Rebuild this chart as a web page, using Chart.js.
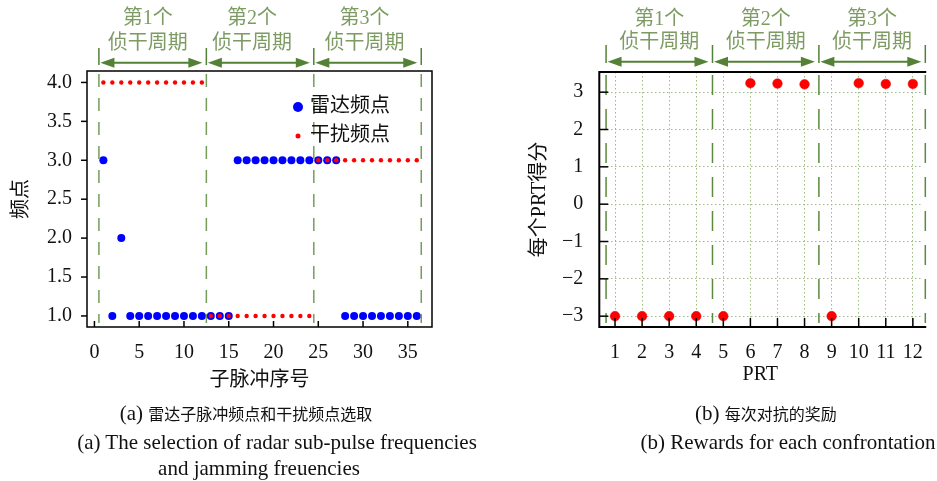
<!DOCTYPE html>
<html>
<head>
<meta charset="utf-8">
<script src="https://cdn.jsdelivr.net/npm/chart.js@4.4.0/dist/chart.umd.min.js"></script>
<style>
  body { margin: 0; background: #fff; width: 937px; height: 481px; position: relative; overflow: hidden;
         font-family: "Liberation Serif", "Noto Sans CJK SC", serif; color: #111; }
  canvas { position: absolute; top: 0; }
  #c1 { left: 0; }
  #c2 { left: 470px; }
  .cap { position: absolute; white-space: nowrap; transform: translateX(-50%); font-size: 21px; line-height: 1; }
  .cap .zh { font-size: 16px; }
</style>
</head>
<body>
<canvas id="c1" width="470" height="481"></canvas>
<canvas id="c2" width="467" height="481"></canvas>
<div class="cap" style="left:246px;top:403px">(a) <span class="zh">雷达子脉冲频点和干扰频点选取</span></div>
<div class="cap" style="left:277px;top:432px">(a) The selection of radar sub-pulse frequencies</div>
<div class="cap" style="left:259px;top:458px">and jamming freuencies</div>
<div class="cap" style="left:766px;top:403px">(b) <span class="zh">每次对抗的奖励</span></div>
<div class="cap" style="left:788px;top:432px">(b) Rewards for each confrontation</div>
<script>
// ---- data ----
const pulseIndex = [1,2,3,4,5,6,7,8,9,10,11,12,13,14,15,16,17,18,19,20,21,22,23,24,25,26,27,28,29,30,31,32,33,34,35,36];
const radarFreq  = [3,1,2,1,1,1,1,1,1,1,1,1,1,1,1,3,3,3,3,3,3,3,3,3,3,3,3,1,1,1,1,1,1,1,1,1];
const jamFreq    = [4,4,4,4,4,4,4,4,4,4,4,4,1,1,1,1,1,1,1,1,1,1,1,1,3,3,3,3,3,3,3,3,3,3,3,3];
const pulseTicks = [0,5,10,15,20,25,30,35];
const freqTicks  = [1.0,1.5,2.0,2.5,3.0,3.5,4.0];

const prt        = [1,2,3,4,5,6,7,8,9,10,11,12];
const reward     = [-3,-3,-3,-3,-3,3.24,3.23,3.21,-3,3.24,3.22,3.22];
const prtTicks   = [1,2,3,4,5,6,7,8,9,10,11,12];
const rewardTicks= [-3,-2,-1,0,1,2,3];

const cycleLabels = [['第1个','侦干周期'],['第2个','侦干周期'],['第3个','侦干周期']];
const leftSeps  = [0.5, 12.5, 24.5, 36.5];
const rightSeps = [0.67, 4.6, 8.53, 12.46];

const FONT = "'Liberation Serif', 'Noto Sans CJK SC', serif";
Chart.defaults.font.family = FONT;
Chart.defaults.color = '#111';

const ARROW = '#538135';
const LABEL = '#7d9b63';

function arrow(ctx, x1, x2, y) {
  const hl = 14, hw = 5;
  ctx.lineWidth = 2;
  ctx.beginPath(); ctx.moveTo(x1 + hl - 2, y); ctx.lineTo(x2 - hl + 2, y); ctx.stroke();
  ctx.beginPath(); ctx.moveTo(x1, y); ctx.lineTo(x1 + hl, y - hw); ctx.lineTo(x1 + hl, y + hw); ctx.closePath(); ctx.fill();
  ctx.beginPath(); ctx.moveTo(x2, y); ctx.lineTo(x2 - hl, y - hw); ctx.lineTo(x2 - hl, y + hw); ctx.closePath(); ctx.fill();
}

const deco = {
  id: 'deco',
  afterDraw(chart, args, o) {
    const { ctx, chartArea: a, scales: { x, y } } = chart;
    ctx.save();
    // dashed separators inside plot
    ctx.strokeStyle = o.sepColor; ctx.lineWidth = 1.5; ctx.setLineDash(o.dash);
    o.seps.forEach(v => {
      const px = x.getPixelForValue(v);
      ctx.beginPath(); ctx.moveTo(px, a.top + 3); ctx.lineTo(px, a.bottom - 4); ctx.stroke();
    });
    ctx.setLineDash([]);
    // cycle annotation above plot
    ctx.strokeStyle = ARROW; ctx.fillStyle = ARROW;
    o.seps.forEach(v => {
      const px = x.getPixelForValue(v);
      ctx.lineWidth = 1.5;
      ctx.beginPath(); ctx.moveTo(px, o.barTop); ctx.lineTo(px, o.barBottom); ctx.stroke();
    });
    ctx.font = '20px ' + FONT; ctx.textAlign = 'center'; ctx.textBaseline = 'middle';
    for (let i = 0; i < o.seps.length - 1; i++) {
      const p1 = x.getPixelForValue(o.seps[i]), p2 = x.getPixelForValue(o.seps[i + 1]);
      ctx.fillStyle = ARROW;
      arrow(ctx, p1 + 1.5, p2 - 4, o.arrowY);
      ctx.fillStyle = LABEL;
      const cx = (p1 + p2) / 2 + o.textShift[i];
      ctx.fillText(cycleLabels[i][0], cx, o.line1Y);
      ctx.fillText(cycleLabels[i][1], cx, o.line2Y);
    }
    // frame
    ctx.strokeStyle = '#000'; ctx.lineWidth = o.frameWidth;
    ctx.beginPath();
    if (o.rightSide) { ctx.strokeRect(a.left, a.top, a.right - a.left, a.bottom - a.top); }
    else { ctx.moveTo(a.right + 5, a.top); ctx.lineTo(a.left, a.top); ctx.lineTo(a.left, a.bottom); ctx.lineTo(a.right + 5, a.bottom); ctx.stroke(); }
    // ticks
    ctx.lineWidth = 1.5;
    x.ticks.forEach(t => {
      const px = x.getPixelForValue(t.value);
      ctx.beginPath(); ctx.moveTo(px, a.bottom); ctx.lineTo(px, a.bottom - o.xTick); ctx.stroke();
    });
    y.ticks.forEach(t => {
      const py = y.getPixelForValue(t.value);
      ctx.beginPath(); ctx.moveTo(a.left, py); ctx.lineTo(a.left + o.yTick, py); ctx.stroke();
    });
    // legend
    if (o.legend) {
      ctx.font = '20px ' + FONT; ctx.textAlign = 'left';
      o.legend.forEach(l => {
        ctx.fillStyle = l.color;
        ctx.beginPath(); ctx.arc(l.x, l.y, l.r, 0, Math.PI * 2); ctx.fill();
        ctx.fillStyle = '#111';
        ctx.fillText(l.text, l.x + 12, l.y);
      });
    }
    ctx.restore();
  }
};

const setTicks = arr => s => { s.ticks = arr.map(v => ({ value: v })); };

new Chart(document.getElementById('c1').getContext('2d'), {
  type: 'scatter',
  data: {
    datasets: [
      { label: '雷达频点', data: pulseIndex.map((v, i) => ({ x: v, y: radarFreq[i] })),
        backgroundColor: '#0000ff', borderWidth: 0, pointRadius: 4, order: 1 },
      { label: '干扰频点', data: pulseIndex.map((v, i) => ({ x: v, y: jamFreq[i] })),
        backgroundColor: '#ff0000', borderWidth: 0, pointRadius: 2.2, order: 0 }
    ]
  },
  options: {
    responsive: false, animation: false, events: [],
    layout: { padding: { top: 71, right: 38, bottom: 88, left: 0 } },
    scales: {
      x: {
        type: 'linear', min: -0.83, max: 37.7, afterBuildTicks: setTicks(pulseTicks),
        grid: { display: false, drawTicks: false }, border: { display: false },
        ticks: { padding: 14, font: { size: 20 }, maxRotation: 0, autoSkip: false },
        title: { display: true, text: '子脉冲序号', font: { size: 20 }, padding: 0 },
        afterFit: s => { s.height = 66; }
      },
      y: {
        min: 0.858, max: 4.147, afterBuildTicks: setTicks(freqTicks),
        grid: { display: false, drawTicks: false }, border: { display: false },
        ticks: { padding: 15, font: { size: 20 }, callback: v => v.toFixed(1) },
        title: { display: true, text: '频点', font: { size: 20 }, padding: { top: 10, bottom: 0 } },
        afterFit: s => { s.width = 87; }
      }
    },
    plugins: {
      legend: { display: false }, tooltip: { enabled: false },
      deco: {
        seps: leftSeps, sepColor: 'rgba(84,130,53,0.8)', dash: [13, 11],
        barTop: 48, barBottom: 65, arrowY: 62.7, line1Y: 19, line2Y: 44,
        textShift: [-5, -8, -3], frameWidth: 1.5, rightSide: true,
        xTick: 6, yTick: -6,
        legend: [
          { text: '雷达频点', color: '#0000ff', r: 5, x: 298, y: 107 },
          { text: '干扰频点', color: '#ff0000', r: 2.5, x: 298, y: 136 }
        ]
      }
    }
  },
  plugins: [deco]
});

new Chart(document.getElementById('c2').getContext('2d'), {
  type: 'scatter',
  data: {
    datasets: [
      { label: '奖励', data: prt.map((v, i) => ({ x: v, y: reward[i] })),
        backgroundColor: '#ff0000', borderColor: '#e00000', borderWidth: 0.5, pointRadius: 4.8 }
    ]
  },
  options: {
    responsive: false, animation: false, events: [],
    layout: { padding: { top: 72, right: 0, bottom: 94, left: 0 } },
    scales: {
      x: {
        type: 'linear', min: 0.42, max: 12.31, afterBuildTicks: setTicks(prtTicks),
        grid: { color: '#9cbb83', lineWidth: 1, drawTicks: false },
        border: { display: false, dash: [1.5, 2.5] },
        ticks: { padding: 14, font: { size: 20 }, maxRotation: 0, autoSkip: false },
        title: { display: true, text: 'PRT', font: { size: 20 }, padding: 0 },
        afterFit: s => { s.height = 60; }
      },
      y: {
        min: -3.29, max: 3.54, afterBuildTicks: setTicks(rewardTicks),
        grid: { color: '#9cbb83', lineWidth: 1, drawTicks: false },
        border: { display: false, dash: [1.5, 2.5] },
        ticks: { padding: 16, font: { size: 20 }, callback: v => v < 0 ? '\u2212' + Math.abs(v) : String(v) },
        title: { display: true, text: '每个PRT得分', font: { size: 20 }, padding: { top: 58, bottom: 0 } },
        afterFit: s => { s.width = 129.3; }
      }
    },
    plugins: {
      legend: { display: false }, tooltip: { enabled: false },
      deco: {
        seps: rightSeps, sepColor: '#5b8a3c', dash: [20, 14],
        barTop: 45, barBottom: 63, arrowY: 61.7, line1Y: 20, line2Y: 43,
        textShift: [0, 0, 0], frameWidth: 2, rightSide: false,
        xTick: 9, yTick: 9
      }
    }
  },
  plugins: [deco]
});
</script>
</body>
</html>
